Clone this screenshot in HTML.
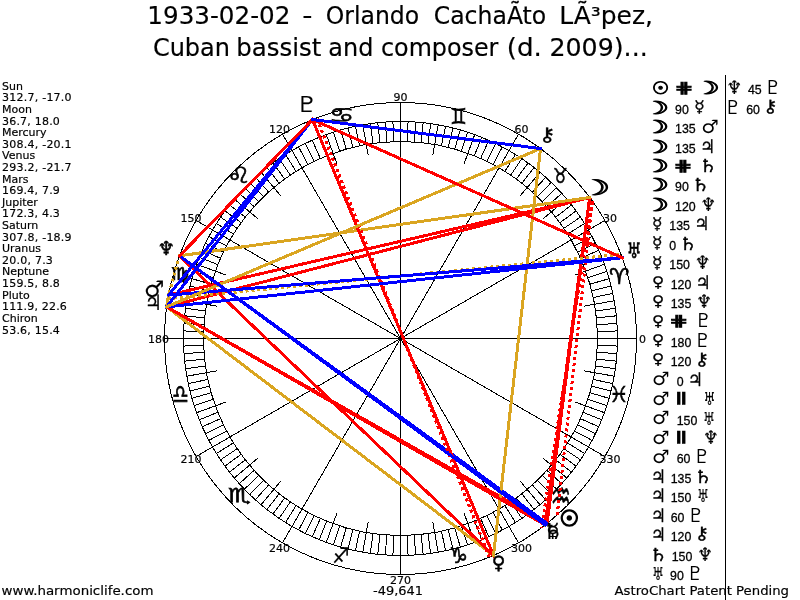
<!DOCTYPE html><html><head><meta charset="utf-8"><title>1933-02-02 - Orlando Cachaíto López</title>
<style>html,body{margin:0;padding:0;background:#fff;overflow:hidden}svg{display:block}.v{font-family:"DejaVu Sans","Liberation Sans",sans-serif;stroke:#000;stroke-width:0.18px}.g{font-family:"DejaVu Sans",sans-serif;stroke:#000;stroke-width:0.8px}.n{font-family:"Liberation Sans","DejaVu Sans",sans-serif;stroke:#000;stroke-width:0.3px}</style></head><body>
<svg width="800" height="600" viewBox="0 0 800 600">
<rect width="800" height="600" fill="#fff"/>
<text class="v" transform="translate(150.00 24) scale(1.0260 1)" x="-2.60" y="0" font-size="24">1933-02-02</text>
<text class="v" transform="translate(303.60 24) scale(1.1746 1)" x="-1.20" y="0" font-size="24">-</text>
<text class="v" transform="translate(327.00 24) scale(0.9817 1)" x="-1.30" y="0" font-size="24">Orlando</text>
<text class="v" transform="translate(435.00 24) scale(0.9813 1)" x="-1.30" y="0" font-size="24">CachaÃto</text>
<text class="v" transform="translate(561.60 24) scale(1.0397 1)" x="-2.30" y="0" font-size="24">LÃ³pez,</text>
<text class="v" transform="translate(154.20 55.6) scale(1.0000 1)" x="-1.30" y="0" font-size="24">Cuban</text>
<text class="v" transform="translate(238.50 55.6) scale(1.0186 1)" x="-2.20" y="0" font-size="24">bassist</text>
<text class="v" transform="translate(329.70 55.6) scale(0.9976 1)" x="-1.40" y="0" font-size="24">and</text>
<text class="v" transform="translate(382.25 55.6) scale(0.9927 1)" x="-1.30" y="0" font-size="24">composer</text>
<text class="v" transform="translate(509.00 55.6) scale(1.0909 1)" x="-2.10" y="0" font-size="24">(d.</text>
<text class="v" transform="translate(551.25 55.6) scale(1.0534 1)" x="-1.70" y="0" font-size="24">2009)...</text>
<g class="v" font-size="11" fill="#000">
<text x="2" y="89.70">Sun</text>
<text x="2" y="101.31" textLength="69.60" lengthAdjust="spacing">312.7, -17.0</text>
<text x="2" y="112.92">Moon</text>
<text x="2" y="124.53" textLength="57.86" lengthAdjust="spacing">36.7, 18.0</text>
<text x="2" y="136.14">Mercury</text>
<text x="2" y="147.75" textLength="69.60" lengthAdjust="spacing">308.4, -20.1</text>
<text x="2" y="159.36">Venus</text>
<text x="2" y="170.97" textLength="69.60" lengthAdjust="spacing">293.2, -21.7</text>
<text x="2" y="182.58">Mars</text>
<text x="2" y="194.19" textLength="57.86" lengthAdjust="spacing">169.4, 7.9</text>
<text x="2" y="205.80">Jupiter</text>
<text x="2" y="217.41" textLength="57.86" lengthAdjust="spacing">172.3, 4.3</text>
<text x="2" y="229.02">Saturn</text>
<text x="2" y="240.63" textLength="69.60" lengthAdjust="spacing">307.8, -18.9</text>
<text x="2" y="252.24">Uranus</text>
<text x="2" y="263.85" textLength="50.86" lengthAdjust="spacing">20.0, 7.3</text>
<text x="2" y="275.46">Neptune</text>
<text x="2" y="287.07" textLength="57.86" lengthAdjust="spacing">159.5, 8.8</text>
<text x="2" y="298.68">Pluto</text>
<text x="2" y="310.29" textLength="64.86" lengthAdjust="spacing">111.9, 22.6</text>
<text x="2" y="321.90">Chiron</text>
<text x="2" y="333.51" textLength="57.86" lengthAdjust="spacing">53.6, 15.4</text>
</g>
<text class="v" x="1.5" y="594.5" font-size="13" textLength="152" lengthAdjust="spacingAndGlyphs">www.harmoniclife.com</text>
<text class="v" x="373" y="594.5" font-size="13" textLength="50" lengthAdjust="spacingAndGlyphs">-49,641</text>
<text class="v" x="614.5" y="594.5" font-size="13" textLength="174.5" lengthAdjust="spacingAndGlyphs">AstroChart Patent Pending</text>
<g stroke="#000" stroke-width="1" fill="none" shape-rendering="crispEdges">
<circle cx="400.5" cy="338.5" r="236.0"/>
<circle cx="400.5" cy="338.5" r="217.0"/>
<circle cx="400.5" cy="338.5" r="197.0"/>
<path d="M400.50 338.50L636.50 338.50M597.38 331.62L617.37 330.93M597.02 324.76L616.97 323.36M596.42 317.91L616.31 315.82M595.58 311.08L615.39 308.30M583.67 306.20L614.20 300.82M593.20 297.54L612.76 293.38M591.65 290.84L611.05 286.00M589.87 284.20L609.09 278.69M587.86 277.62L606.88 271.44M575.28 274.88L604.41 264.28M583.16 264.70L601.70 257.21M580.47 258.37L598.74 250.24M577.56 252.14L595.54 243.37M574.44 246.01L592.10 236.62M400.50 338.50L604.88 220.50M567.57 234.11L584.53 223.51M563.82 228.34L580.40 217.16M559.88 222.71L576.06 210.95M555.74 217.21L571.50 204.90M542.98 218.94L566.73 199.02M546.90 206.68L561.76 193.30M542.21 201.65L556.60 187.76M537.35 196.79L551.24 182.40M532.32 192.10L545.70 177.24M520.06 196.02L539.98 172.27M521.79 183.26L534.10 167.50M516.29 179.12L528.05 162.94M510.66 175.18L521.84 158.60M504.89 171.43L515.49 154.47M400.50 338.50L518.50 134.12M492.99 164.56L502.38 146.90M486.86 161.44L495.63 143.46M480.63 158.53L488.76 140.26M474.30 155.84L481.79 137.30M464.12 163.72L474.72 134.59M461.38 151.14L467.56 132.12M454.80 149.13L460.31 129.91M448.16 147.35L453.00 127.95M441.46 145.80L445.62 126.24M432.80 155.33L438.18 124.80M427.92 143.42L430.70 123.61M421.09 142.58L423.18 122.69M414.24 141.98L415.64 122.03M407.38 141.62L408.07 121.63M400.50 338.50L400.50 102.50M393.62 141.62L392.93 121.63M386.76 141.98L385.36 122.03M379.91 142.58L377.82 122.69M373.08 143.42L370.30 123.61M368.20 155.33L362.82 124.80M359.54 145.80L355.38 126.24M352.84 147.35L348.00 127.95M346.20 149.13L340.69 129.91M339.62 151.14L333.44 132.12M336.88 163.72L326.28 134.59M326.70 155.84L319.21 137.30M320.37 158.53L312.24 140.26M314.14 161.44L305.37 143.46M308.01 164.56L298.62 146.90M400.50 338.50L282.50 134.12M296.11 171.43L285.51 154.47M290.34 175.18L279.16 158.60M284.71 179.12L272.95 162.94M279.21 183.26L266.90 167.50M280.94 196.02L261.02 172.27M268.68 192.10L255.30 177.24M263.65 196.79L249.76 182.40M258.79 201.65L244.40 187.76M254.10 206.68L239.24 193.30M258.02 218.94L234.27 199.02M245.26 217.21L229.50 204.90M241.12 222.71L224.94 210.95M237.18 228.34L220.60 217.16M233.43 234.11L216.47 223.51M400.50 338.50L196.12 220.50M226.56 246.01L208.90 236.62M223.44 252.14L205.46 243.37M220.53 258.37L202.26 250.24M217.84 264.70L199.30 257.21M225.72 274.88L196.59 264.28M213.14 277.62L194.12 271.44M211.13 284.20L191.91 278.69M209.35 290.84L189.95 286.00M207.80 297.54L188.24 293.38M217.33 306.20L186.80 300.82M205.42 311.08L185.61 308.30M204.58 317.91L184.69 315.82M203.98 324.76L184.03 323.36M203.62 331.62L183.63 330.93M400.50 338.50L164.50 338.50M203.62 345.38L183.63 346.07M203.98 352.24L184.03 353.64M204.58 359.09L184.69 361.18M205.42 365.92L185.61 368.70M217.33 370.80L186.80 376.18M207.80 379.46L188.24 383.62M209.35 386.16L189.95 391.00M211.13 392.80L191.91 398.31M213.14 399.38L194.12 405.56M225.72 402.12L196.59 412.72M217.84 412.30L199.30 419.79M220.53 418.63L202.26 426.76M223.44 424.86L205.46 433.63M226.56 430.99L208.90 440.38M400.50 338.50L196.12 456.50M233.43 442.89L216.47 453.49M237.18 448.66L220.60 459.84M241.12 454.29L224.94 466.05M245.26 459.79L229.50 472.10M258.02 458.06L234.27 477.98M254.10 470.32L239.24 483.70M258.79 475.35L244.40 489.24M263.65 480.21L249.76 494.60M268.68 484.90L255.30 499.76M280.94 480.98L261.02 504.73M279.21 493.74L266.90 509.50M284.71 497.88L272.95 514.06M290.34 501.82L279.16 518.40M296.11 505.57L285.51 522.53M400.50 338.50L282.50 542.88M308.01 512.44L298.62 530.10M314.14 515.56L305.37 533.54M320.37 518.47L312.24 536.74M326.70 521.16L319.21 539.70M336.88 513.28L326.28 542.41M339.62 525.86L333.44 544.88M346.20 527.87L340.69 547.09M352.84 529.65L348.00 549.05M359.54 531.20L355.38 550.76M368.20 521.67L362.82 552.20M373.08 533.58L370.30 553.39M379.91 534.42L377.82 554.31M386.76 535.02L385.36 554.97M393.62 535.38L392.93 555.37M400.50 338.50L400.50 574.50M407.38 535.38L408.07 555.37M414.24 535.02L415.64 554.97M421.09 534.42L423.18 554.31M427.92 533.58L430.70 553.39M432.80 521.67L438.18 552.20M441.46 531.20L445.62 550.76M448.16 529.65L453.00 549.05M454.80 527.87L460.31 547.09M461.38 525.86L467.56 544.88M464.12 513.28L474.72 542.41M474.30 521.16L481.79 539.70M480.63 518.47L488.76 536.74M486.86 515.56L495.63 533.54M492.99 512.44L502.38 530.10M400.50 338.50L518.50 542.88M504.89 505.57L515.49 522.53M510.66 501.82L521.84 518.40M516.29 497.88L528.05 514.06M521.79 493.74L534.10 509.50M520.06 480.98L539.98 504.73M532.32 484.90L545.70 499.76M537.35 480.21L551.24 494.60M542.21 475.35L556.60 489.24M546.90 470.32L561.76 483.70M542.98 458.06L566.73 477.98M555.74 459.79L571.50 472.10M559.88 454.29L576.06 466.05M563.82 448.66L580.40 459.84M567.57 442.89L584.53 453.49M400.50 338.50L604.88 456.50M574.44 430.99L592.10 440.38M577.56 424.86L595.54 433.63M580.47 418.63L598.74 426.76M583.16 412.30L601.70 419.79M575.28 402.12L604.41 412.72M587.86 399.38L606.88 405.56M589.87 392.80L609.09 398.31M591.65 386.16L611.05 391.00M593.20 379.46L612.76 383.62M583.67 370.80L614.20 376.18M595.58 365.92L615.39 368.70M596.42 359.09L616.31 361.18M597.02 352.24L616.97 353.64M597.38 345.38L617.37 346.07"/>
</g>
<circle cx="400.5" cy="338.5" r="2.2" fill="#000"/>
<g class="v" font-size="11" text-anchor="middle" fill="#000">
<text x="642.40" y="342.50">0</text>
<text x="609.99" y="221.55">30</text>
<text x="521.45" y="133.01">60</text>
<text x="400.50" y="100.60">90</text>
<text x="279.55" y="133.01">120</text>
<text x="191.01" y="221.55">150</text>
<text x="158.60" y="342.50">180</text>
<text x="191.01" y="463.45">210</text>
<text x="279.55" y="551.99">240</text>
<text x="400.50" y="584.40">270</text>
<text x="521.45" y="551.99">300</text>
<text x="609.99" y="463.45">330</text>
</g>
<text class="g" transform="translate(619.20 276.30) scale(1.037 1)" x="-9.81" y="8.00" font-size="21.92" style="stroke-width:0.6px">♈</text>
<text class="g" transform="translate(560.40 175.00) scale(0.794 1)" x="-9.25" y="7.50" font-size="20.55" style="stroke-width:0.6px">♉</text>
<text class="g" transform="translate(458.50 116.00) scale(0.841 1)" x="-9.81" y="8.00" font-size="21.92" style="stroke-width:0.6px">♊</text>
<text class="g" transform="translate(341.50 114.50) scale(1.407 1)" x="-8.95" y="7.10" font-size="20.00" style="stroke-width:0.6px">♋</text>
<text class="g" transform="translate(238.80 174.50) scale(1.180 1)" x="-10.05" y="8.20" font-size="22.47" style="stroke-width:0.6px">♌</text>
<text class="g" transform="translate(180.00 274.70) scale(1.152 1)" x="-7.91" y="4.84" font-size="17.58" style="stroke-width:0.6px">♍</text>
<text class="g" transform="translate(180.50 393.80) scale(0.718 1)" x="-11.68" y="9.15" font-size="25.95" style="stroke-width:0.6px">♎</text>
<text class="g" transform="translate(239.50 496.00) scale(1.312 1)" x="-8.68" y="6.16" font-size="19.39" style="stroke-width:0.6px">♏</text>
<text class="g" transform="translate(340.80 554.80) scale(0.892 1)" x="-9.68" y="7.85" font-size="21.51" style="stroke-width:0.3px">♐</text>
<text class="g" transform="translate(458.60 555.10) scale(0.971 1)" x="-9.81" y="8.00" font-size="21.92" style="stroke-width:0.6px">♑</text>
<text class="g" transform="translate(560.80 495.80) scale(0.609 1)" x="-16.53" y="13.58" font-size="36.94" style="stroke-width:0.6px">♒</text>
<text class="g" transform="translate(618.80 394.00) scale(1.023 1)" x="-9.86" y="8.00" font-size="21.92" style="stroke-width:0.4px">♓</text>
<g stroke-width="3" fill="none" shape-rendering="crispEdges" stroke-linecap="square">
<line x1="557.19" y1="514.98" x2="592.39" y2="201.12" stroke="#ff0000" stroke-dasharray="3 3" stroke-linecap="butt"/>
<line x1="589.72" y1="197.46" x2="547.09" y2="523.45" stroke="#ff0000"/>
<line x1="589.72" y1="197.46" x2="168.53" y2="295.09" stroke="#ff0000"/>
<line x1="589.72" y1="197.46" x2="166.63" y2="306.88" stroke="#ff0000"/>
<line x1="592.39" y1="201.12" x2="541.54" y2="527.72" stroke="#ff0000" stroke-dasharray="3 3" stroke-linecap="butt"/>
<line x1="589.72" y1="197.46" x2="545.15" y2="524.98" stroke="#ff0000"/>
<line x1="589.72" y1="197.46" x2="179.45" y2="255.85" stroke="#daa520"/>
<line x1="547.09" y1="523.45" x2="166.63" y2="306.88" stroke="#ff0000"/>
<line x1="547.09" y1="523.45" x2="545.15" y2="524.98" stroke="#daa520"/>
<line x1="547.09" y1="523.45" x2="179.45" y2="255.85" stroke="#0000ff"/>
<line x1="493.47" y1="555.42" x2="166.63" y2="306.88" stroke="#daa520"/>
<line x1="493.47" y1="555.42" x2="179.45" y2="255.85" stroke="#ff0000"/>
<line x1="489.29" y1="557.16" x2="316.69" y2="117.88" stroke="#ff0000" stroke-dasharray="3 3" stroke-linecap="butt"/>
<line x1="493.47" y1="555.42" x2="312.47" y2="119.53" stroke="#ff0000"/>
<line x1="493.47" y1="555.42" x2="540.55" y2="148.55" stroke="#daa520"/>
<line x1="168.53" y1="295.09" x2="166.63" y2="306.88" stroke="#daa520"/>
<line x1="167.87" y1="298.74" x2="620.97" y2="254.31" stroke="#daa520" stroke-dasharray="3 3" stroke-linecap="butt"/>
<line x1="168.53" y1="295.09" x2="622.27" y2="257.78" stroke="#0000ff"/>
<line x1="167.87" y1="298.74" x2="178.17" y2="259.33" stroke="#daa520" stroke-dasharray="3 3" stroke-linecap="butt"/>
<line x1="168.53" y1="295.09" x2="312.47" y2="119.53" stroke="#0000ff"/>
<line x1="166.63" y1="306.88" x2="545.15" y2="524.98" stroke="#ff0000"/>
<line x1="166.63" y1="306.88" x2="622.27" y2="257.78" stroke="#0000ff"/>
<line x1="166.63" y1="306.88" x2="312.47" y2="119.53" stroke="#0000ff"/>
<line x1="166.63" y1="306.88" x2="540.55" y2="148.55" stroke="#daa520"/>
<line x1="545.15" y1="524.98" x2="179.45" y2="255.85" stroke="#0000ff"/>
<line x1="622.27" y1="257.78" x2="312.47" y2="119.53" stroke="#ff0000"/>
<line x1="179.45" y1="255.85" x2="312.47" y2="119.53" stroke="#ff0000"/>
<line x1="312.47" y1="119.53" x2="540.55" y2="148.55" stroke="#0000ff"/>

</g>
<text class="g" transform="translate(569.40 518.00) scale(1.000 1)" x="-9.86" y="8.00" font-size="21.92" style="stroke-width:1.5px">☉</text>
<text class="g" transform="translate(600.25 187.25) scale(1.604 1)" x="-12.47" y="7.75" font-size="21.23" style="stroke-width:0.8px">☽</text>
<text class="g" transform="translate(552.80 531.00) scale(1.166 1)" x="-5.93" y="6.07" font-size="19.28" style="stroke-width:0.2px">☿</text>
<text class="g" transform="translate(498.60 563.90) scale(1.018 1)" x="-6.72" y="5.57" font-size="18.42" style="stroke-width:0.5px">♀</text>
<text class="g" transform="translate(154.25 289.20) scale(0.998 1)" x="-10.34" y="8.01" font-size="22.72" style="stroke-width:0.1px">♂</text>
<text class="g" transform="translate(153.30 301.90) scale(0.906 1)" x="-9.44" y="7.70" font-size="21.10" style="stroke-width:0.2px">♃</text>
<text class="g" transform="translate(552.80 531.00) scale(1.103 1)" x="-9.81" y="8.00" font-size="21.92" style="stroke-width:0.2px">♄</text>
<text class="g" transform="translate(634.10 249.75) scale(0.773 1)" x="-9.50" y="7.75" font-size="21.23" style="stroke-width:0.5px">♅</text>
<text class="g" transform="translate(166.25 247.90) scale(1.011 1)" x="-8.58" y="7.00" font-size="19.18" style="stroke-width:0.5px">♆</text>
<text class="g" transform="translate(306.90 104.00) scale(1.209 1)" x="-9.81" y="8.00" font-size="21.92" style="stroke-width:0.1px">♇</text>
<text class="g" transform="translate(547.75 134.75) scale(1.249 1)" x="-7.51" y="5.75" font-size="19.02" style="stroke-width:0.3px">⚷</text>
<line x1="725.5" y1="75" x2="725.5" y2="600" stroke="#000" stroke-width="1" shape-rendering="crispEdges"/>
<text class="g" transform="translate(653.50 94.30) scale(1.129 1)" x="-1.44" y="-0.00" font-size="16.99" style="stroke-width:1.0px">☉</text><text class="g" transform="translate(676.60 94.30) scale(1.549 1)" x="-1.52" y="-1.45" font-size="14.46" style="stroke-width:0.9px">⋕</text><text class="g" transform="translate(704.40 94.30) scale(1.604 1)" x="-6.41" y="-0.00" font-size="17.81" style="stroke-width:0.8px">☽</text>
<text class="g" transform="translate(653.50 113.73) scale(1.604 1)" x="-6.41" y="-0.00" font-size="17.81" style="stroke-width:0.8px">☽</text><text class="n" x="675.00" y="113.73" font-size="13.3" textLength="13.76" lengthAdjust="spacingAndGlyphs">90</text><text class="g" transform="translate(695.86 113.73) scale(1.089 1)" x="-1.40" y="-1.65" font-size="16.51" style="stroke-width:0.3px">☿</text>
<text class="g" transform="translate(653.50 133.16) scale(1.604 1)" x="-6.41" y="-0.00" font-size="17.81" style="stroke-width:0.8px">☽</text><text class="n" x="675.00" y="133.16" font-size="13.3" textLength="20.64" lengthAdjust="spacingAndGlyphs">135</text><text class="g" transform="translate(702.74 133.16) scale(1.067 1)" x="-1.47" y="-0.28" font-size="18.37" style="stroke-width:0.0px">♂</text>
<text class="g" transform="translate(653.50 152.59) scale(1.604 1)" x="-6.41" y="-0.00" font-size="17.81" style="stroke-width:0.8px">☽</text><text class="n" x="675.00" y="152.59" font-size="13.3" textLength="20.64" lengthAdjust="spacingAndGlyphs">135</text><text class="g" transform="translate(702.74 152.59) scale(0.915 1)" x="-3.10" y="-0.00" font-size="18.77" style="stroke-width:0.3px">♃</text>
<text class="g" transform="translate(653.50 172.02) scale(1.604 1)" x="-6.41" y="-0.00" font-size="17.81" style="stroke-width:0.8px">☽</text><text class="g" transform="translate(675.60 172.02) scale(1.549 1)" x="-1.52" y="-1.45" font-size="14.46" style="stroke-width:0.9px">⋕</text><text class="g" transform="translate(703.40 172.02) scale(1.172 1)" x="-3.92" y="-0.00" font-size="17.81" style="stroke-width:0.3px">♄</text>
<text class="g" transform="translate(653.50 191.45) scale(1.604 1)" x="-6.41" y="-0.00" font-size="17.81" style="stroke-width:0.8px">☽</text><text class="n" x="675.00" y="191.45" font-size="13.3" textLength="13.76" lengthAdjust="spacingAndGlyphs">90</text><text class="g" transform="translate(695.86 191.45) scale(1.172 1)" x="-3.92" y="-0.00" font-size="17.81" style="stroke-width:0.3px">♄</text>
<text class="g" transform="translate(653.50 210.88) scale(1.604 1)" x="-6.41" y="-0.00" font-size="17.81" style="stroke-width:0.8px">☽</text><text class="n" x="675.00" y="210.88" font-size="13.3" textLength="20.64" lengthAdjust="spacingAndGlyphs">120</text><text class="g" transform="translate(702.74 210.88) scale(0.940 1)" x="-2.33" y="-0.00" font-size="18.63" style="stroke-width:0.2px">♆</text>
<text class="g" transform="translate(653.50 230.31) scale(1.089 1)" x="-1.40" y="-1.65" font-size="16.51" style="stroke-width:0.3px">☿</text><text class="n" x="669.30" y="230.31" font-size="13.3" textLength="20.64" lengthAdjust="spacingAndGlyphs">135</text><text class="g" transform="translate(697.04 230.31) scale(0.915 1)" x="-3.10" y="-0.00" font-size="18.77" style="stroke-width:0.3px">♃</text>
<text class="g" transform="translate(653.50 249.74) scale(1.089 1)" x="-1.40" y="-1.65" font-size="16.51" style="stroke-width:0.3px">☿</text><text class="n" x="669.30" y="249.74" font-size="13.3" textLength="6.88" lengthAdjust="spacingAndGlyphs">0</text><text class="g" transform="translate(683.28 249.74) scale(1.172 1)" x="-3.92" y="-0.00" font-size="17.81" style="stroke-width:0.3px">♄</text>
<text class="g" transform="translate(653.50 269.17) scale(1.089 1)" x="-1.40" y="-1.65" font-size="16.51" style="stroke-width:0.3px">☿</text><text class="n" x="669.30" y="269.17" font-size="13.3" textLength="20.64" lengthAdjust="spacingAndGlyphs">150</text><text class="g" transform="translate(697.04 269.17) scale(0.940 1)" x="-2.33" y="-0.00" font-size="18.63" style="stroke-width:0.2px">♆</text>
<text class="g" transform="translate(653.50 288.60) scale(1.139 1)" x="-1.25" y="-1.84" font-size="14.74" style="stroke-width:0.3px">♀</text><text class="n" x="670.70" y="288.60" font-size="13.3" textLength="20.64" lengthAdjust="spacingAndGlyphs">120</text><text class="g" transform="translate(698.44 288.60) scale(0.915 1)" x="-3.10" y="-0.00" font-size="18.77" style="stroke-width:0.3px">♃</text>
<text class="g" transform="translate(653.50 308.03) scale(1.139 1)" x="-1.25" y="-1.84" font-size="14.74" style="stroke-width:0.3px">♀</text><text class="n" x="670.70" y="308.03" font-size="13.3" textLength="20.64" lengthAdjust="spacingAndGlyphs">135</text><text class="g" transform="translate(698.44 308.03) scale(0.940 1)" x="-2.33" y="-0.00" font-size="18.63" style="stroke-width:0.2px">♆</text>
<text class="g" transform="translate(653.50 327.46) scale(1.139 1)" x="-1.25" y="-1.84" font-size="14.74" style="stroke-width:0.3px">♀</text><text class="g" transform="translate(671.30 327.46) scale(1.549 1)" x="-1.52" y="-1.45" font-size="14.46" style="stroke-width:0.9px">⋕</text><text class="g" transform="translate(699.10 327.46) scale(1.068 1)" x="-4.60" y="-0.00" font-size="19.18" style="stroke-width:0.0px">♇</text>
<text class="g" transform="translate(653.50 346.89) scale(1.139 1)" x="-1.25" y="-1.84" font-size="14.74" style="stroke-width:0.3px">♀</text><text class="n" x="670.70" y="346.89" font-size="13.3" textLength="20.64" lengthAdjust="spacingAndGlyphs">180</text><text class="g" transform="translate(698.44 346.89) scale(1.068 1)" x="-4.60" y="-0.00" font-size="19.18" style="stroke-width:0.0px">♇</text>
<text class="g" transform="translate(653.50 366.32) scale(1.139 1)" x="-1.25" y="-1.84" font-size="14.74" style="stroke-width:0.3px">♀</text><text class="n" x="670.70" y="366.32" font-size="13.3" textLength="20.64" lengthAdjust="spacingAndGlyphs">120</text><text class="g" transform="translate(698.44 366.32) scale(1.193 1)" x="-3.35" y="-1.80" font-size="17.18" style="stroke-width:0.3px">⚷</text>
<text class="g" transform="translate(653.50 385.75) scale(1.067 1)" x="-1.47" y="-0.28" font-size="18.37" style="stroke-width:0.0px">♂</text><text class="n" x="676.70" y="385.75" font-size="13.3" textLength="6.88" lengthAdjust="spacingAndGlyphs">0</text><text class="g" transform="translate(690.68 385.75) scale(0.915 1)" x="-3.10" y="-0.00" font-size="18.77" style="stroke-width:0.3px">♃</text>
<text class="g" transform="translate(653.50 405.18) scale(1.067 1)" x="-1.47" y="-0.28" font-size="18.37" style="stroke-width:0.0px">♂</text><text class="g" transform="translate(677.30 405.18) scale(2.386 1)" x="-1.62" y="-3.12" font-size="13.00" style="stroke-width:0.35px">‖</text><text class="g" transform="translate(705.10 405.18) scale(0.729 1)" x="-2.14" y="-0.00" font-size="17.81" style="stroke-width:0.1px">♅</text>
<text class="g" transform="translate(653.50 424.61) scale(1.067 1)" x="-1.47" y="-0.28" font-size="18.37" style="stroke-width:0.0px">♂</text><text class="n" x="676.70" y="424.61" font-size="13.3" textLength="20.64" lengthAdjust="spacingAndGlyphs">150</text><text class="g" transform="translate(704.44 424.61) scale(0.729 1)" x="-2.14" y="-0.00" font-size="17.81" style="stroke-width:0.1px">♅</text>
<text class="g" transform="translate(653.50 444.04) scale(1.067 1)" x="-1.47" y="-0.28" font-size="18.37" style="stroke-width:0.0px">♂</text><text class="g" transform="translate(677.30 444.04) scale(2.386 1)" x="-1.62" y="-3.12" font-size="13.00" style="stroke-width:0.35px">‖</text><text class="g" transform="translate(705.10 444.04) scale(0.940 1)" x="-2.33" y="-0.00" font-size="18.63" style="stroke-width:0.2px">♆</text>
<text class="g" transform="translate(653.50 463.47) scale(1.067 1)" x="-1.47" y="-0.28" font-size="18.37" style="stroke-width:0.0px">♂</text><text class="n" x="676.70" y="463.47" font-size="13.3" textLength="13.76" lengthAdjust="spacingAndGlyphs">60</text><text class="g" transform="translate(697.56 463.47) scale(1.068 1)" x="-4.60" y="-0.00" font-size="19.18" style="stroke-width:0.0px">♇</text>
<text class="g" transform="translate(653.50 482.90) scale(0.915 1)" x="-3.10" y="-0.00" font-size="18.77" style="stroke-width:0.3px">♃</text><text class="n" x="670.70" y="482.90" font-size="13.3" textLength="20.64" lengthAdjust="spacingAndGlyphs">135</text><text class="g" transform="translate(698.44 482.90) scale(1.172 1)" x="-3.92" y="-0.00" font-size="17.81" style="stroke-width:0.3px">♄</text>
<text class="g" transform="translate(653.50 502.33) scale(0.915 1)" x="-3.10" y="-0.00" font-size="18.77" style="stroke-width:0.3px">♃</text><text class="n" x="670.70" y="502.33" font-size="13.3" textLength="20.64" lengthAdjust="spacingAndGlyphs">150</text><text class="g" transform="translate(698.44 502.33) scale(0.729 1)" x="-2.14" y="-0.00" font-size="17.81" style="stroke-width:0.1px">♅</text>
<text class="g" transform="translate(653.50 521.76) scale(0.915 1)" x="-3.10" y="-0.00" font-size="18.77" style="stroke-width:0.3px">♃</text><text class="n" x="670.70" y="521.76" font-size="13.3" textLength="13.76" lengthAdjust="spacingAndGlyphs">60</text><text class="g" transform="translate(691.56 521.76) scale(1.068 1)" x="-4.60" y="-0.00" font-size="19.18" style="stroke-width:0.0px">♇</text>
<text class="g" transform="translate(653.50 541.19) scale(0.915 1)" x="-3.10" y="-0.00" font-size="18.77" style="stroke-width:0.3px">♃</text><text class="n" x="670.70" y="541.19" font-size="13.3" textLength="20.64" lengthAdjust="spacingAndGlyphs">120</text><text class="g" transform="translate(698.44 541.19) scale(1.193 1)" x="-3.35" y="-1.80" font-size="17.18" style="stroke-width:0.3px">⚷</text>
<text class="g" transform="translate(653.50 560.62) scale(1.172 1)" x="-3.92" y="-0.00" font-size="17.81" style="stroke-width:0.3px">♄</text><text class="n" x="671.70" y="560.62" font-size="13.3" textLength="20.64" lengthAdjust="spacingAndGlyphs">150</text><text class="g" transform="translate(699.44 560.62) scale(0.940 1)" x="-2.33" y="-0.00" font-size="18.63" style="stroke-width:0.2px">♆</text>
<text class="g" transform="translate(653.50 580.05) scale(0.729 1)" x="-2.14" y="-0.00" font-size="17.81" style="stroke-width:0.1px">♅</text><text class="n" x="670.00" y="580.05" font-size="13.3" textLength="13.76" lengthAdjust="spacingAndGlyphs">90</text><text class="g" transform="translate(690.86 580.05) scale(1.068 1)" x="-4.60" y="-0.00" font-size="19.18" style="stroke-width:0.0px">♇</text>
<text class="g" transform="translate(728.60 94.30) scale(0.940 1)" x="-2.33" y="-0.00" font-size="18.63" style="stroke-width:0.2px">♆</text><text class="n" x="747.90" y="94.30" font-size="13.3" textLength="13.76" lengthAdjust="spacingAndGlyphs">45</text><text class="g" transform="translate(768.76 94.30) scale(1.068 1)" x="-4.60" y="-0.00" font-size="19.18" style="stroke-width:0.0px">♇</text>
<text class="g" transform="translate(728.60 113.73) scale(1.068 1)" x="-4.60" y="-0.00" font-size="19.18" style="stroke-width:0.0px">♇</text><text class="n" x="746.20" y="113.73" font-size="13.3" textLength="13.76" lengthAdjust="spacingAndGlyphs">60</text><text class="g" transform="translate(767.06 113.73) scale(1.193 1)" x="-3.35" y="-1.80" font-size="17.18" style="stroke-width:0.3px">⚷</text>
</svg></body></html>
